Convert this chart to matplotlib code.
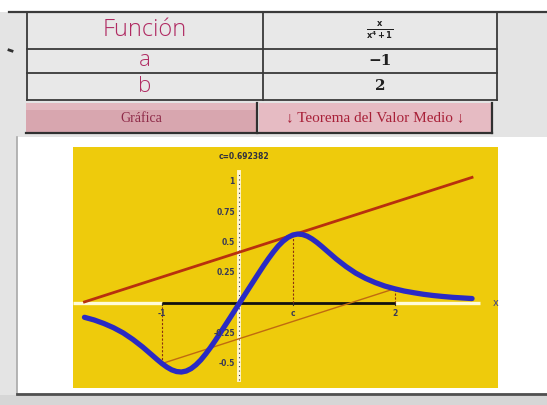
import matplotlib
matplotlib.use("Agg")
import matplotlib.pyplot as plt
from matplotlib.patches import Rectangle

# ---- values -------------------------------------------------------------
row_labels = ["Función", "a", "b"]
row_values = [r"$\mathbf{\frac{x}{x^4+1}}$", "−1", "2"]
button_labels = ["Gráfica", "↓ Teorema del Valor Medio ↓"]

a_val, b_val = -1.0, 2.0
c_val = 0.692382
f_a, f_b, f_c = -0.500, 0.118, 0.563

curve_x = [-2.0, -1.875, -1.75, -1.625, -1.5, -1.375, -1.25, -1.125,
           -1.0625, -1.0, -0.9375, -0.875, -0.8125, -0.75, -0.6875, -0.625,
           -0.5625, -0.5, -0.4375, -0.375, -0.3125, -0.25, -0.125, 0.0,
           0.125, 0.25, 0.3125, 0.375, 0.4375, 0.5, 0.5625, 0.625,
           0.6875, 0.75, 0.8125, 0.875, 0.9375, 1.0, 1.0625, 1.125,
           1.25, 1.375, 1.5, 1.625, 1.75, 1.875, 2.0,
           2.125, 2.25, 2.375, 2.5, 2.625, 2.75, 2.875, 3.0]
curve_y = [-0.118, -0.140, -0.169, -0.204, -0.247, -0.301, -0.363, -0.432,
           -0.467, -0.500, -0.529, -0.552, -0.566, -0.570, -0.562, -0.542,
           -0.511, -0.471, -0.422, -0.368, -0.310, -0.249, -0.125, 0.000,
           0.125, 0.249, 0.310, 0.368, 0.422, 0.471, 0.511, 0.542,
           0.562, 0.570, 0.566, 0.552, 0.529, 0.500, 0.467, 0.432,
           0.363, 0.301, 0.247, 0.204, 0.169, 0.140, 0.118,
           0.099, 0.085, 0.072, 0.062, 0.054, 0.047, 0.042, 0.037]

tangent_x = [-2.0, 3.0]
tangent_y = [0.009, 1.038]

secant_x = [a_val, b_val]
secant_y = [f_a, f_b]

ytick_vals = [1.0, 0.75, 0.5, 0.25, -0.25, -0.5]
ytick_labels = ["1", "0.75", "0.5", "0.25", "-0.25", "-0.5"]
xtick_vals = [a_val, c_val, b_val]
xtick_labels = ["-1", "c", "2"]

# ---- figure -------------------------------------------------------------
W, H = 547, 405
fig = plt.figure(figsize=(W / 100, H / 100), dpi=100)
fig.patch.set_facecolor("#E4E4E4")

ui = fig.add_axes([0, 0, 1, 1])
ui.set_xlim(0, W)
ui.set_ylim(H, 0)
ui.axis("off")

def rect(x0, y0, x1, y1, fc, ec="none", lw=0, z=1):
    ui.add_patch(Rectangle((x0, y0), x1 - x0, y1 - y0, facecolor=fc,
                           edgecolor=ec, linewidth=lw, zorder=z))

# page background and header strip
rect(0, 0, W, 12, "#FFFFFF", z=0)
ui.plot([9, W], [12, 12], color="#3A3A3A", lw=1.6, zorder=3)
ui.plot([9, 12], [50, 51], color="#303030", lw=2.0, zorder=3)

# table
col_x = [27, 263, 497]
row_y = [12, 49, 73, 100]
rect(col_x[0], row_y[0], col_x[2], row_y[3], "#E8E8E8", z=1)
for y in row_y:
    ui.plot([col_x[0], col_x[2]], [y, y], color="#3A3A3A", lw=1.3, zorder=3)
for x in col_x:
    ui.plot([x, x], [row_y[0], row_y[3]], color="#3A3A3A", lw=1.3, zorder=3)

label_sizes = [17, 16, 16]
for i, (lab, val) in enumerate(zip(row_labels, row_values)):
    yc = (row_y[i] + row_y[i + 1]) / 2
    ui.text((col_x[0] + col_x[1]) / 2, yc, lab, ha="center", va="center",
            fontsize=label_sizes[i], color="#B02A62", family="Open Sans",
            fontweight="light", zorder=4)
    if i == 0:
        ui.text((col_x[1] + col_x[2]) / 2, yc, val, ha="center", va="center",
                fontsize=8.5, color="#202020", zorder=4)
    else:
        ui.text((col_x[1] + col_x[2]) / 2, yc, val, ha="center", va="center",
                fontsize=11, color="#202020", family="DejaVu Serif",
                fontweight="bold", zorder=4)

# buttons
rect(26, 103, 257, 133, "#D8A6AF", z=1)
rect(26, 103, 257, 110, "#E2B8BF", z=1)
ui.plot([26, 257], [132.5, 132.5], color="#303030", lw=1.6, zorder=3)
ui.plot([257, 257], [103, 133], color="#303030", lw=1.6, zorder=3)
rect(259, 103, 492, 133, "#E6BBC3", z=1)
ui.plot([259, 492], [132.5, 132.5], color="#303030", lw=1.6, zorder=3)
ui.plot([492, 492], [103, 133], color="#303030", lw=1.6, zorder=3)
ui.text(141, 118, button_labels[0], ha="center", va="center", fontsize=10,
        color="#8E2A48", family=["Liberation Serif", "DejaVu Serif"], zorder=4)
ui.text(375, 118, button_labels[1], ha="center", va="center", fontsize=11,
        color="#A82038", family=["Liberation Serif", "DejaVu Serif"], zorder=4)

# chart panel
rect(17, 137, W, 393, "#FFFFFF", z=1)
ui.plot([17, 17], [137, 394], color="#A8A8A8", lw=1.2, zorder=3)
ui.plot([17, W], [394, 394], color="#505050", lw=2.0, zorder=3)
rect(0, 395, W, H, "#D6D6D6", z=1)

# ---- plot area ----------------------------------------------------------
px0, px1, py0, py1 = 73, 498, 147, 388
ax = fig.add_axes([px0 / W, 1 - py1 / H, (px1 - px0) / W, (py1 - py0) / H])
ax.set_facecolor("#EECB0C")
ax.set_xlim(-2.148, 3.335)
ax.set_ylim(-0.702, 1.289)
for s in ax.spines.values():
    s.set_visible(False)
ax.set_xticks([])
ax.set_yticks([])

# x axis: light outside [a, b], black inside
ax.plot([-2.148, a_val], [0, 0], color="#FFFBD8", lw=2.4, zorder=2,
        solid_capstyle="butt")
ax.plot([b_val, 3.10], [0, 0], color="#FFFBD8", lw=2.4, zorder=2,
        solid_capstyle="butt")
ax.plot([a_val, b_val], [0, 0], color="#101010", lw=2.0, zorder=3,
        solid_capstyle="butt")

# y axis
ax.plot([0, 0], [-0.636, 1.083], color="#FFF6D0", lw=2.8, zorder=2)
ax.plot([0, 0], [-0.636, 1.083], color="#404040", lw=0.8, zorder=2.5,
        linestyle=(0, (1, 3)))

# tangent line at c and secant line through (a, f(a)), (b, f(b))
ax.plot(tangent_x, tangent_y, color="#B8300E", lw=2.0, zorder=4)
ax.plot(secant_x, secant_y, color="#C06A10", lw=1.0, zorder=4)

# dashed guides
for xv, yv in [(a_val, f_a), (c_val, f_c), (b_val, f_b)]:
    ax.plot([xv, xv], [0, yv], color="#8A3010", lw=0.8, zorder=4,
            linestyle=(0, (2, 1.5)))

# the function
ax.plot(curve_x, curve_y, color="#2A2AC4", lw=3.8, zorder=5,
        solid_capstyle="round", solid_joinstyle="round")

# tick labels
for v, t in zip(ytick_vals, ytick_labels):
    ax.text(-0.06, v, t, ha="right", va="center", fontsize=5.5,
            fontweight="bold", color="#3A3A55", zorder=6)
for v, t in zip(xtick_vals, xtick_labels):
    ax.plot([v, v], [0, -0.02], color="#303030", lw=0.8, zorder=4)
    ax.text(v, -0.085, t, ha="center", va="center", fontsize=5.5,
            fontweight="bold", color="#3A3A55", zorder=6)

ax.text(3.30, 0.0, "x", ha="center", va="center", fontsize=7,
        color="#404088", zorder=6)
ax.text(0.06, 1.207, "c=%.6f" % c_val, ha="center", va="center",
        fontsize=5.5, fontweight="bold", color="#303040", zorder=6)

fig.savefig("out.png", dpi=100, facecolor=fig.get_facecolor())
